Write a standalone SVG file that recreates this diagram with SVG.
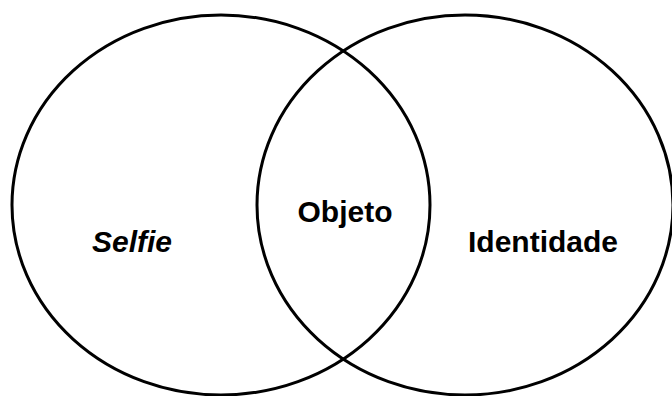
<svg xmlns="http://www.w3.org/2000/svg" width="672" height="396" viewBox="0 0 672 396">
<style>
.c{fill:none;stroke:#000;stroke-width:3}
.t{font-family:"Liberation Sans",Arial,sans-serif;font-weight:bold;font-size:30px;fill:#000;text-anchor:middle}
</style>
<rect width="672" height="396" fill="#fff"/>
<g id="selfie"><ellipse class="c" cx="221" cy="205" rx="209" ry="190"/><text class="t" x="132" y="252" font-style="italic">Selfie</text></g>
<g id="identidade"><ellipse class="c" cx="465" cy="205" rx="208" ry="190"/><text class="t" x="543" y="252">Identidade</text></g>
<g id="objeto"><text class="t" x="345" y="222">Objeto</text></g>
<g id="connectors"/>
</svg>
